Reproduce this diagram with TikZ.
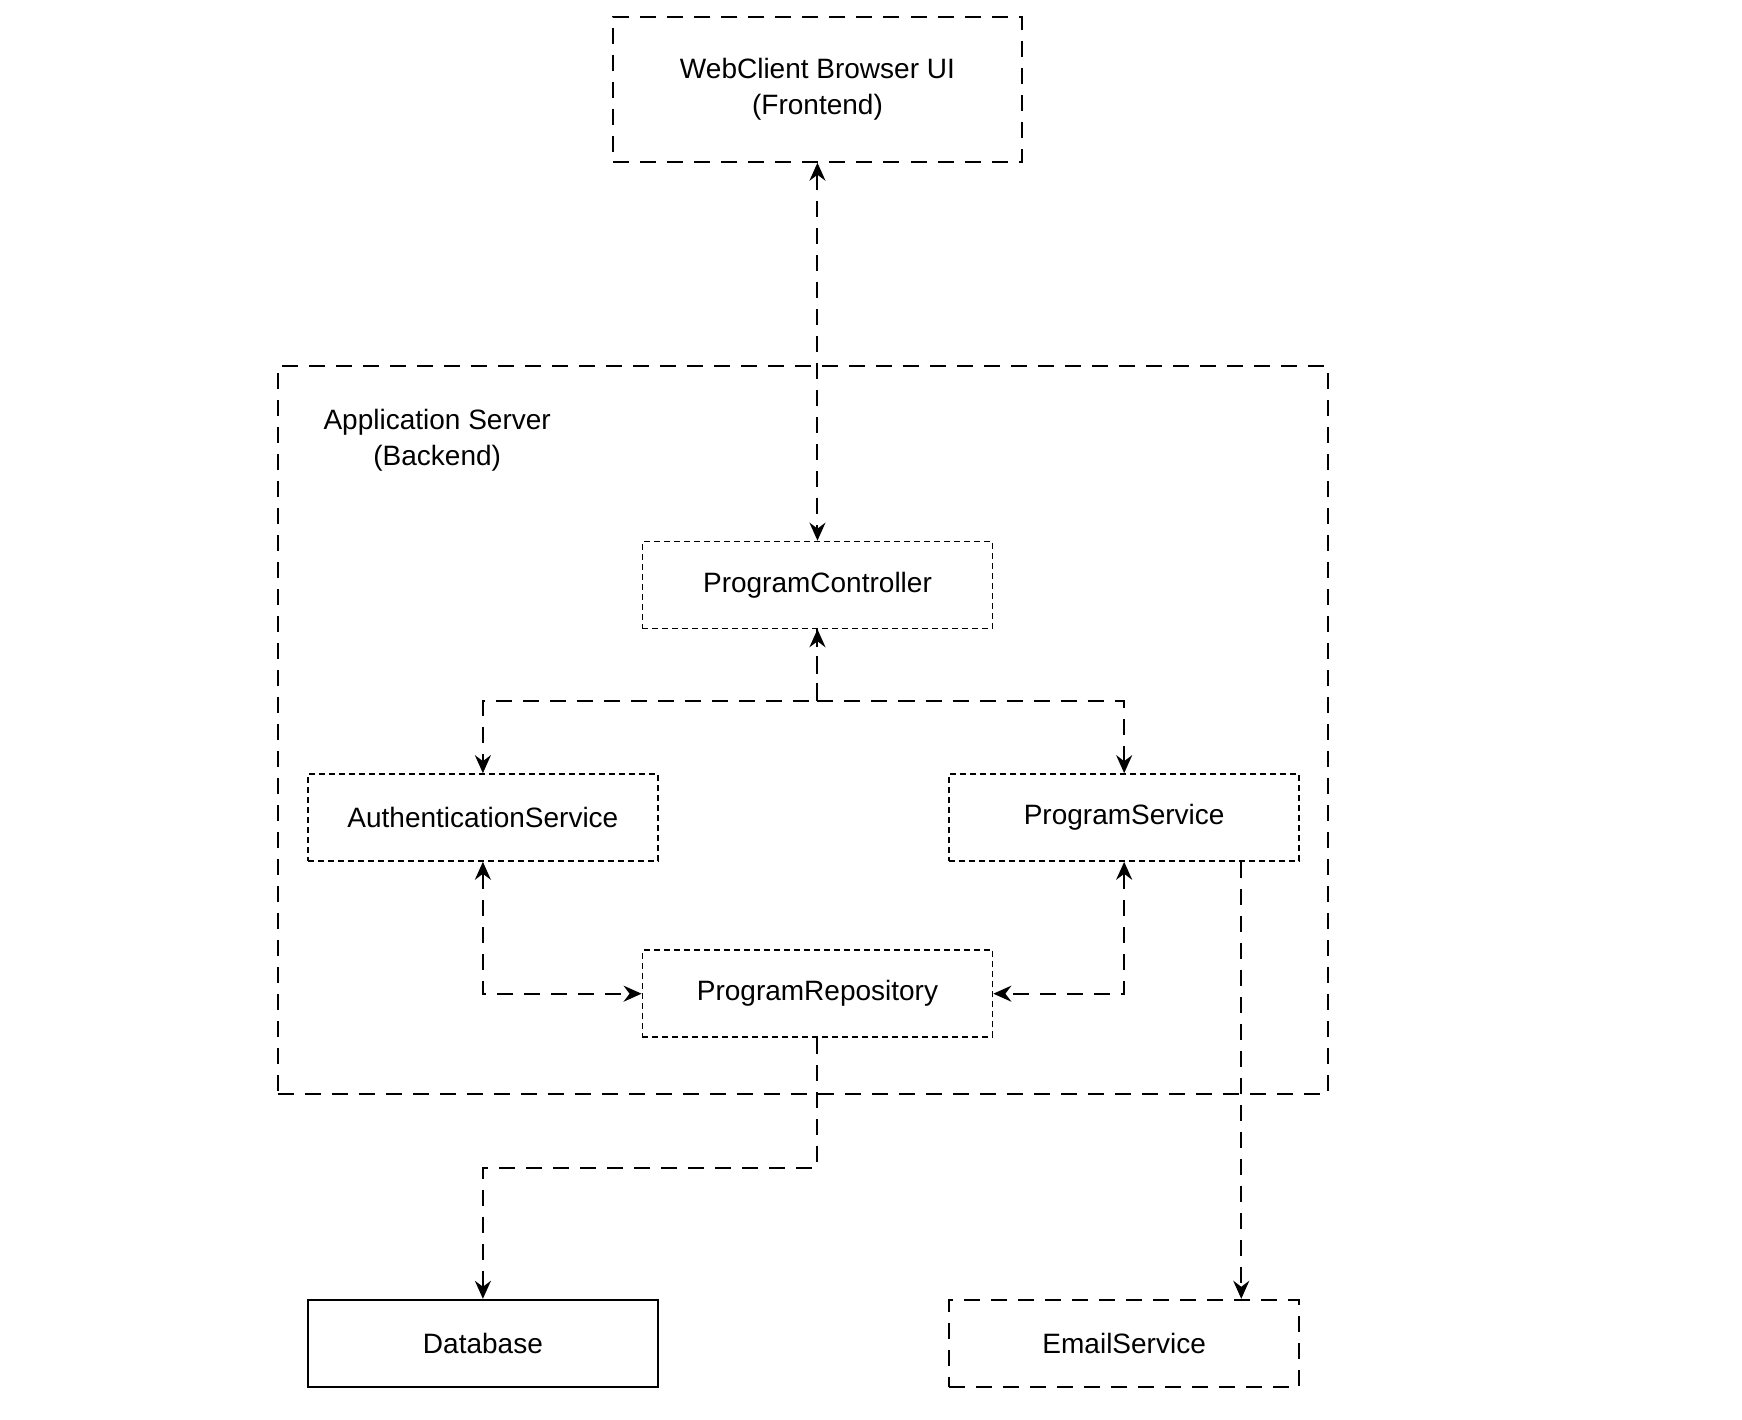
\documentclass[tikz,border=0pt]{standalone}
\usepackage{fontspec}
\setmainfont{Liberation Sans}
\usetikzlibrary{arrows.meta}
\begin{document}
\begin{tikzpicture}[x=1.115pt,y=-1.115pt,
  big/.style={draw,line width=2pt,dash pattern=on 16pt off 11pt},
  small/.style={draw,line width=1.6pt,dash pattern=on 6pt off 4pt},
  box/.style={minimum width=350.1pt,minimum height=87pt,inner sep=0pt,font=\fontsize{28}{36}\selectfont,align=center},
  con/.style={line width=2pt,dash pattern=on 16pt off 11pt,>={Stealth[length=18pt,width=16pt,inset=6pt]}}]
\useasboundingbox (0,0) rectangle (1562,1273);
\node[big,box,minimum width=408pt,minimum height=145pt] (web) at (733,80) {WebClient Browser UI\\(Frontend)};
\node[big,minimum width=1050pt,minimum height=728pt] (app) at (720,654.5) {};
\node[font=\fontsize{28}{36}\selectfont,align=center] (applbl) at (392,395) {Application Server\\(Backend)};
\node[small,box] (pc) at (733,524.5) {ProgramController};
\node[small,box] (auth) at (433,733) {AuthenticationService};
\node[small,box] (ps) at (1008,733) {ProgramService};
\node[small,box] (repo) at (733,891) {ProgramRepository};
\node[draw,line width=2pt,box] (db) at (433,1204.5) {Database};
\node[big,box] (email) at (1008,1204.5) {EmailService};
\coordinate (j) at (733,629);
\draw[con,<->] (web) -- (pc);
\draw[con,->] (pc) -- (j) -| (auth);
\draw[con,->] (j) -| (ps);
\draw[con,<->] (auth) |- (repo);
\draw[con,<->] (ps) |- (repo);
\coordinate (r1) at (733,1047);
\draw[con,->] (repo) -- (r1) -| (db);
\draw[con,->] (ps.south -| 1113,0) -- (email.north -| 1113,0);
\draw[con,->] (j) -- (pc);
\end{tikzpicture}
\end{document}
